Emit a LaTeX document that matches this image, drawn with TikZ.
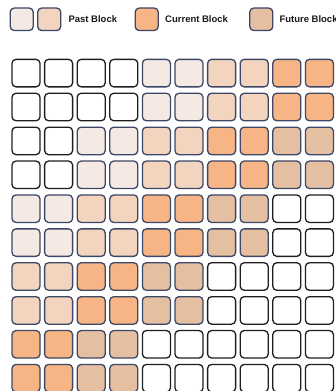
\documentclass[tikz,border=0pt]{standalone}
\usepackage{fontspec}
\setmainfont{Liberation Sans}
\definecolor{fillW}{HTML}{FFFFFF}
\definecolor{fillA}{HTML}{F5E9E4}
\definecolor{fillB}{HTML}{F3D4BE}
\definecolor{fillC}{HTML}{F7B586}
\definecolor{fillF}{HTML}{E4BFA2}
\definecolor{lineW}{HTML}{1E1E1E}
\definecolor{lineA}{HTML}{3D4766}
\definecolor{lineB}{HTML}{3D4766}
\definecolor{lineC}{HTML}{3D4766}
\definecolor{lineF}{HTML}{3D4766}
\begin{document}
\begin{tikzpicture}[x=1pt,y=-1pt,
  blk/.style={rounded corners=4pt, line width=1.3pt, inner sep=0pt},
  cell/.style={blk, minimum width=28pt, minimum height=27.5pt, fill=fill#1, draw=line#1},
  legbox/.style={blk, minimum width=23pt, minimum height=22.5pt, fill=fill#1, draw=line#1},
  legtext/.style={anchor=west, inner sep=0pt, font=\fontsize{9.5}{11}\selectfont\bfseries, text=black!90}]
\clip (0,0) rectangle (335,391);
% legend
\node[legbox=A] (l1) at (21.7,19.3) {};
\node[legbox=B] (l2) at (49.2,19.3) {};
\node[legtext] (t1) at (68.3,19.3) {Past Block};
\node[legbox=C] (l3) at (146.7,19.3) {};
\node[legtext] (t2) at (165,19.3) {Current Block};
\node[legbox=F] (l4) at (261.3,19.3) {};
\node[legtext] (t3) at (279.3,19.3) {Future Block};
% grid
\foreach \row [count=\j from 0] in {
  {W,W,W,W,A,A,B,B,C,C},
  {W,W,W,W,A,A,B,B,C,C},
  {W,W,A,A,B,B,C,C,F,F},
  {W,W,A,A,B,B,C,C,F,F},
  {A,A,B,B,C,C,F,F,W,W},
  {A,A,B,B,C,C,F,F,W,W},
  {B,B,C,C,F,F,W,W,W,W},
  {B,B,C,C,F,F,W,W,W,W},
  {C,C,F,F,W,W,W,W,W,W},
  {C,C,F,F,W,W,W,W,W,W}} {
  \foreach \t [count=\i from 0] in \row {
    \node[cell=\t] (c-\j-\i) at ({26+32.6*\i},{73.1+33.9*\j}) {};
  }
}
\end{tikzpicture}
\end{document}
